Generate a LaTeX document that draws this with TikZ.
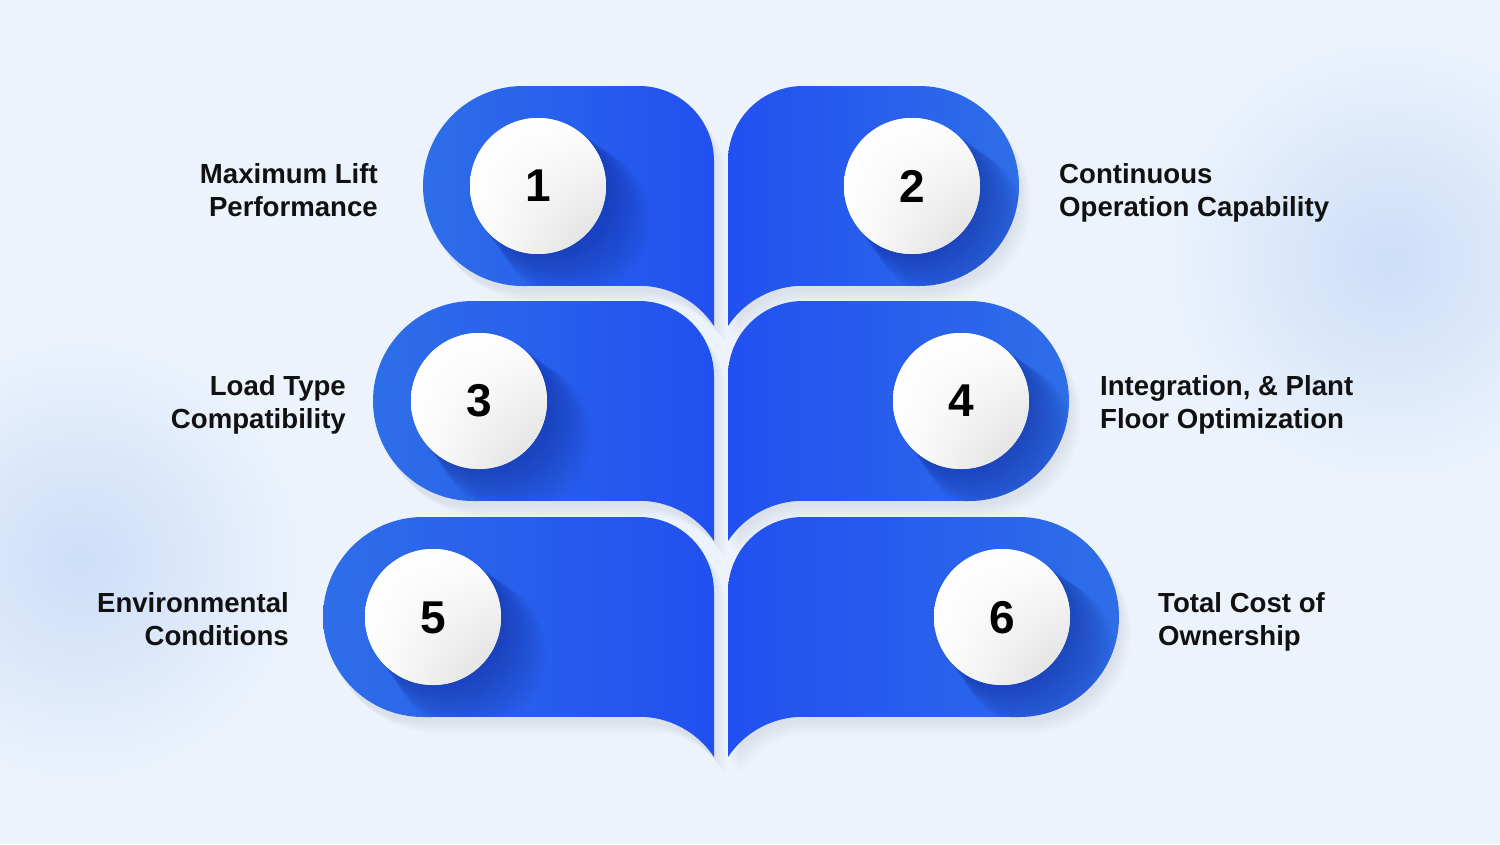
\documentclass[tikz,border=0pt]{standalone}
\usepackage{fontspec}
\setmainfont{Liberation Sans}
\usetikzlibrary{calc,shadings}
\definecolor{bgc}{RGB}{236,243,252}
\definecolor{blobc}{RGB}{205,222,248}
\definecolor{outerblue}{RGB}{46,110,232}
\definecolor{innerblue}{RGB}{33,80,240}
\definecolor{shadowblue}{RGB}{20,45,150}
\definecolor{txt}{RGB}{17,17,17}
\newcommand\leafpath[2]{({#1+100},{-#2}) -- (639,{-#2}) arc[start angle=90,end angle=0,radius=75pt] -- (714,{-#2-240}) arc[start angle=33.56,end angle=90,radius=90pt] -- ({#1+100},{-#2-200}) arc[start angle=270,end angle=90,radius=100pt] -- cycle}
% #1 L, #2 T, #3 circle cx (local coords), #4 sign of x offset, #5 left colour, #6 right colour
\newcommand\leafrow[6]{%
  \foreach \k in {1,...,6}{
    \fill[black,opacity=0.012] [xshift={#4*2*\k pt},yshift={-4pt-2*\k pt}] \leafpath{#1}{#2};
  }
  \shade[left color=#5,right color=#6] \leafpath{#1}{#2};
  \begin{scope}
    \clip \leafpath{#1}{#2};
    \foreach \k in {1,...,14}{
      \fill[shadowblue,opacity=0.045] ({#3+#4*2.6*\k},{-#2-100-2.6*\k}) circle[radius={68pt+0.6*\k pt}];
    }
  \end{scope}
  \fill[white] (#3,{-#2-100}) circle[radius=68pt];
  \shade[upper left=white,upper right=white,lower left=white,lower right=black!14] (#3,{-#2-100}) circle[radius=68pt];
}
\tikzset{
  lbl/.style={font=\fontsize{27.6}{33}\selectfont\bfseries,text=txt,inner sep=0pt},
  num/.style={font=\fontsize{46}{46}\selectfont\bfseries,text=black,inner sep=0pt},
}
\begin{document}
\begin{tikzpicture}[x=1pt,y=1pt]
\useasboundingbox (0,0) rectangle (1500,-844);
\fill[bgc] (0,0) rectangle (1500,-844);
\begin{scope}
\clip (0,0) rectangle (1500,-844);
\shade[inner color=blobc,outer color=bgc] (80,-560) circle[radius=230pt];
\shade[inner color=blobc,outer color=bgc] (1390,-260) circle[radius=230pt];
\end{scope}
% left shapes
\leafrow{423}{86}{538}{1}{outerblue}{innerblue}
\leafrow{373}{301}{479}{1}{outerblue}{innerblue}
\leafrow{323}{517}{433}{1}{outerblue}{innerblue}
% right shapes (mirrored)
\begin{scope}[xshift=1442pt,xscale=-1]
\leafrow{423}{86}{530}{-1}{innerblue}{outerblue}
\leafrow{373}{301}{481}{-1}{innerblue}{outerblue}
\leafrow{323}{517}{440}{-1}{innerblue}{outerblue}
\end{scope}
% numbers
\node[num] (n1) at (538,-186) {1};
\node[num] (n2) at (912,-186) {2};
\node[num] (n3) at (479,-401) {3};
\node[num] (n4) at (961,-401) {4};
\node[num] (n5) at (433,-618) {5};
\node[num] (n6) at (1002,-618) {6};
% labels
\node[lbl,anchor=east,align=right] (l1) at (378,-193) {Maximum Lift\strut\\Performance\strut};
\node[lbl,anchor=west,align=left] (l2) at (1059,-193) {Continuous\strut\\Operation Capability\strut};
\node[lbl,anchor=east,align=right] (l3) at (346,-405) {Load Type\strut\\Compatibility\strut};
\node[lbl,anchor=west,align=left] (l4) at (1100,-405) {Integration, \& Plant\strut\\Floor Optimization\strut};
\node[lbl,anchor=east,align=right] (l5) at (289,-622) {Environmental\strut\\Conditions\strut};
\node[lbl,anchor=west,align=left] (l6) at (1158,-622) {Total Cost of\strut\\Ownership\strut};
\end{tikzpicture}
\end{document}
